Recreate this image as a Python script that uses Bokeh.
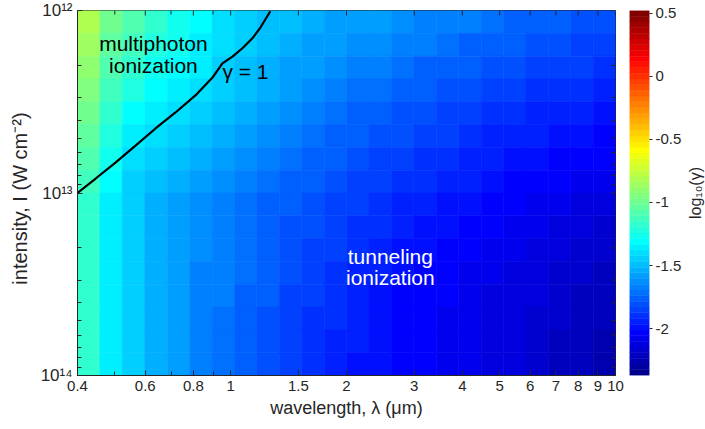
import numpy as np
from bokeh.plotting import figure
from bokeh.models import (FixedTicker, Range1d, Label, ColumnDataSource)
from bokeh.layouts import row
from bokeh.transform import linear_cmap
from bokeh.embed import file_html
from bokeh.resources import INLINE

# ---------------- data ----------------
# cell centres of the colour map
wavelength_um = [0.428, 0.489, 0.559, 0.640, 0.732, 0.837, 0.957, 1.094, 1.251, 1.431, 1.637, 1.872,
                 2.140, 2.448, 2.799, 3.201, 3.661, 4.186, 4.787, 5.475, 6.261, 7.160, 8.188, 9.351]
intensity_wcm2 = [1.155e12, 1.540e12, 2.054e12, 2.738e12, 3.652e12, 4.870e12, 6.494e12, 8.660e12,
                  1.155e13, 1.540e13, 2.054e13, 2.738e13, 3.652e13, 4.870e13, 6.494e13, 8.660e13]

# log10(gamma), one list per intensity row (top = 1e12)
lg_r00 = [-0.83, -0.99, -1.10, -1.18, -1.25, -1.32, -1.39, -1.44, -1.47, -1.50, -1.53, -1.56, -1.58, -1.60, -1.62, -1.65, -1.67, -1.69, -1.72, -1.74, -1.77, -1.78, -1.80, -1.82]
lg_r01 = [-0.86, -1.04, -1.15, -1.22, -1.28, -1.35, -1.41, -1.46, -1.49, -1.53, -1.56, -1.59, -1.62, -1.64, -1.67, -1.69, -1.72, -1.74, -1.76, -1.78, -1.80, -1.82, -1.84, -1.85]
lg_r02 = [-0.89, -1.08, -1.19, -1.26, -1.32, -1.37, -1.43, -1.48, -1.52, -1.56, -1.59, -1.63, -1.66, -1.69, -1.71, -1.74, -1.76, -1.78, -1.80, -1.82, -1.84, -1.86, -1.87, -1.89]
lg_r03 = [-0.93, -1.13, -1.24, -1.30, -1.35, -1.40, -1.45, -1.50, -1.54, -1.58, -1.63, -1.67, -1.71, -1.73, -1.76, -1.78, -1.81, -1.82, -1.84, -1.86, -1.88, -1.90, -1.91, -1.93]
lg_r04 = [-0.98, -1.18, -1.29, -1.35, -1.39, -1.44, -1.49, -1.53, -1.58, -1.62, -1.66, -1.71, -1.74, -1.77, -1.79, -1.82, -1.84, -1.86, -1.88, -1.90, -1.92, -1.93, -1.95, -1.97]
lg_r05 = [-1.03, -1.23, -1.34, -1.39, -1.44, -1.49, -1.54, -1.58, -1.62, -1.66, -1.70, -1.74, -1.77, -1.80, -1.82, -1.85, -1.87, -1.90, -1.92, -1.93, -1.95, -1.97, -1.99, -2.01]
lg_r06 = [-1.09, -1.28, -1.38, -1.44, -1.49, -1.54, -1.59, -1.63, -1.67, -1.70, -1.74, -1.77, -1.80, -1.83, -1.86, -1.88, -1.91, -1.93, -1.95, -1.97, -1.99, -2.01, -2.03, -2.05]
lg_r07 = [-1.15, -1.33, -1.43, -1.49, -1.55, -1.59, -1.64, -1.67, -1.71, -1.74, -1.78, -1.81, -1.84, -1.86, -1.89, -1.91, -1.94, -1.96, -1.99, -2.01, -2.03, -2.05, -2.07, -2.09]
lg_r08 = [-1.18, -1.36, -1.45, -1.52, -1.57, -1.62, -1.66, -1.70, -1.74, -1.77, -1.80, -1.83, -1.86, -1.89, -1.92, -1.94, -1.97, -1.99, -2.01, -2.04, -2.06, -2.08, -2.10, -2.12]
lg_r09 = [-1.19, -1.36, -1.46, -1.52, -1.58, -1.63, -1.67, -1.71, -1.75, -1.79, -1.82, -1.85, -1.88, -1.91, -1.94, -1.97, -1.99, -2.01, -2.04, -2.06, -2.08, -2.10, -2.13, -2.15]
lg_r10 = [-1.19, -1.36, -1.46, -1.53, -1.59, -1.64, -1.68, -1.72, -1.76, -1.80, -1.84, -1.87, -1.91, -1.94, -1.97, -1.99, -2.01, -2.04, -2.06, -2.08, -2.11, -2.13, -2.15, -2.17]
lg_r11 = [-1.19, -1.37, -1.46, -1.53, -1.59, -1.65, -1.69, -1.73, -1.77, -1.82, -1.86, -1.89, -1.93, -1.96, -1.99, -2.02, -2.04, -2.06, -2.08, -2.11, -2.13, -2.15, -2.17, -2.20]
lg_r12 = [-1.19, -1.37, -1.46, -1.53, -1.59, -1.65, -1.69, -1.74, -1.78, -1.83, -1.87, -1.90, -1.94, -1.97, -2.01, -2.03, -2.05, -2.07, -2.10, -2.12, -2.14, -2.17, -2.19, -2.21]
lg_r13 = [-1.19, -1.36, -1.46, -1.53, -1.59, -1.65, -1.70, -1.74, -1.79, -1.83, -1.88, -1.91, -1.95, -1.98, -2.01, -2.04, -2.06, -2.08, -2.10, -2.13, -2.15, -2.18, -2.20, -2.23]
lg_r14 = [-1.18, -1.36, -1.46, -1.53, -1.59, -1.65, -1.70, -1.74, -1.79, -1.84, -1.88, -1.92, -1.96, -1.99, -2.02, -2.04, -2.06, -2.09, -2.11, -2.14, -2.16, -2.19, -2.22, -2.24]
lg_r15 = [-1.18, -1.36, -1.46, -1.52, -1.59, -1.66, -1.70, -1.75, -1.80, -1.85, -1.89, -1.93, -1.97, -2.00, -2.02, -2.05, -2.07, -2.09, -2.12, -2.14, -2.17, -2.20, -2.23, -2.26]

# gamma = 1 contour
gamma1_wavelength_um = [0.400, 0.446, 0.502, 0.566, 0.638, 0.719, 0.810, 0.897, 0.952, 1.011, 1.073, 1.139, 1.195, 1.268]
gamma1_intensity = [1.00e13, 8.33e12, 6.81e12, 5.50e12, 4.43e12, 3.62e12, 2.92e12, 2.33e12, 1.95e12, 1.79e12, 1.61e12, 1.42e12, 1.24e12, 1.01e12]

# axes / colour scale
x_lim = [0.4, 10]
y_lim = [1e12, 1e14]
x_major_ticks = [0.4, 0.6, 0.8, 1, 1.5, 2, 3, 4, 5, 6, 7, 8, 9, 10]
x_minor_ticks = [0.5, 0.7, 0.9]
y_major_ticks = [10**12, 10**13, 10**14]
y_major_labels = ["10\u00b9\u00b2", "10\u00b9\u00b3", "10\u00b9\u2074"]
y_minor_ticks = [k * 10**e for e in (12, 13) for k in range(2, 10)]
cbar_low, cbar_high = -2.37, 0.52
cbar_ticks = [-2, -1.5, -1, -0.5, 0, 0.5]
cbar_labels = ["-2", "-1.5", "-1", "-0.5", "0", "0.5"]

# ---------------- jet colormap (MATLAB, 64 colours) ----------------
def jet(m=64):
    n = int(np.ceil(m / 4))
    u = np.concatenate([np.arange(1, n + 1) / n, np.ones(n - 1), np.arange(n, 0, -1) / n])
    g = int(np.ceil(n / 2)) - (1 if m % 4 == 1 else 0) + np.arange(1, len(u) + 1)
    r = g + n
    b = g - n
    J = np.zeros((m, 3))
    k = g <= m; J[g[k] - 1, 1] = u[k]
    k = r <= m; J[r[k] - 1, 0] = u[k]
    k = b >= 1; J[b[k] - 1, 2] = u[k]
    return ["#%02x%02x%02x" % tuple(int(round(c * 255)) for c in rgb) for rgb in J]

palette = jet(64)

# ---------------- cell geometry ----------------
def edges(centres, lo, hi):
    c = np.asarray(centres, dtype=float)
    mids = np.sqrt(c[:-1] * c[1:])
    return np.concatenate([[lo], mids, [hi]])

lam_e = edges(wavelength_um, x_lim[0], x_lim[1])
int_e = edges(intensity_wcm2, y_lim[0], y_lim[1])
rows = [lg_r00, lg_r01, lg_r02, lg_r03, lg_r04, lg_r05, lg_r06, lg_r07,
        lg_r08, lg_r09, lg_r10, lg_r11, lg_r12, lg_r13, lg_r14, lg_r15]

L, R, T, B, V = [], [], [], [], []
for i, rv in enumerate(rows):
    for j, v in enumerate(rv):
        L.append(lam_e[j]); R.append(lam_e[j + 1])
        T.append(int_e[i]); B.append(int_e[i + 1])
        V.append(v)
src = ColumnDataSource(dict(left=L, right=R, top=T, bottom=B, v=V))

FONT = "Liberation Sans"
AX = "#262626"
FW, FH = 538, 365

# ---------------- main plot ----------------
p = figure(frame_width=FW, frame_height=FH, x_axis_type="log", y_axis_type="log",
           x_range=Range1d(x_lim[0], x_lim[1]), y_range=Range1d(y_lim[1], y_lim[0]),
           min_border_left=77, min_border_right=14, min_border_top=10, min_border_bottom=54,
           toolbar_location=None, output_backend="svg")
p.xgrid.visible = False
p.ygrid.visible = False
p.outline_line_color = AX
p.outline_line_width = 1

cmap = linear_cmap("v", palette, cbar_low, cbar_high)
p.quad(left="left", right="right", top="top", bottom="bottom", source=src,
       fill_color=cmap, line_color=cmap, line_width=0.6)

p.line(gamma1_wavelength_um, gamma1_intensity, line_color="black", line_width=2.2)

# tick marks mirrored on the top and right edges (inward, like the bottom/left axes)
x_dec_px = FW / np.log10(x_lim[1] / x_lim[0])
y_dec_px = FH / np.log10(y_lim[1] / y_lim[0])
def tick_len_x(px):
    return 10 ** (px / x_dec_px)
def tick_len_y(px):
    return 10 ** (px / y_dec_px)
for ticks, ln in [(x_major_ticks, 5), (x_minor_ticks, 4)]:
    p.segment(x0=ticks, x1=ticks, y0=[y_lim[0]] * len(ticks),
              y1=[y_lim[0] * tick_len_y(ln)] * len(ticks), line_color=AX, line_width=1)
for ticks, ln in [(y_major_ticks, 5), (y_minor_ticks, 4)]:
    p.segment(x0=[x_lim[1]] * len(ticks), x1=[x_lim[1] / tick_len_x(ln)] * len(ticks),
              y0=ticks, y1=ticks, line_color=AX, line_width=1)

xt = FixedTicker(ticks=x_major_ticks, minor_ticks=x_minor_ticks)
yt = FixedTicker(ticks=y_major_ticks, minor_ticks=y_minor_ticks)

def style(ax, ticker):
    ax.ticker = ticker
    ax.axis_line_color = AX
    ax.major_tick_line_color = AX
    ax.minor_tick_line_color = AX
    ax.major_tick_in = 5
    ax.major_tick_out = 0
    ax.minor_tick_in = 4
    ax.minor_tick_out = 0
    ax.major_label_text_font = FONT
    ax.major_label_text_font_size = "15px"
    ax.major_label_text_color = AX
    ax.axis_label_text_font = FONT
    ax.axis_label_text_font_style = "normal"
    ax.axis_label_text_color = AX

style(p.xaxis[0], xt)
p.xaxis[0].major_label_overrides = {t: str(t) for t in x_major_ticks}
p.xaxis[0].major_label_standoff = 5
p.xaxis[0].axis_label = "wavelength, \u03bb (\u03bcm)"
p.xaxis[0].axis_label_text_font_size = "18px"
p.xaxis[0].axis_label_standoff = 4

style(p.yaxis[0], yt)
p.yaxis[0].major_label_overrides = dict(zip(y_major_ticks, y_major_labels))
p.yaxis[0].major_label_text_font_size = "17px"
p.yaxis[0].major_label_standoff = 5
p.yaxis[0].axis_label = "intensity,  I  (W cm\u207b\u00b2)"
p.yaxis[0].axis_label_text_font_size = "20px"
p.yaxis[0].axis_label_standoff = 7

for txt, x, y, col in [("multiphoton", 0.630, 1.516e12, "black"),
                       ("ionization", 0.630, 2.0e12, "black"),
                       ("tunneling", 2.60, 2.23e13, "white"),
                       ("ionization", 2.60, 2.90e13, "white")]:
    p.add_layout(Label(x=x, y=y, text=txt, text_align="center", text_baseline="alphabetic",
                       text_font=FONT, text_font_size="21px", text_color=col))
p.add_layout(Label(x=0.952, y=2.16e12, text="\u03b3 = 1", text_align="left",
                   text_baseline="alphabetic", text_font=FONT, text_font_size="21px",
                   text_color="black"))

# ---------------- colour bar ----------------
cb = figure(frame_width=20, frame_height=FH, x_range=Range1d(0, 1),
            y_range=Range1d(cbar_low, cbar_high), x_axis_location=None, y_axis_location="right",
            min_border_left=0, min_border_right=36, min_border_top=10, min_border_bottom=54,
            toolbar_location=None, output_backend="svg")
cb.xgrid.visible = False
cb.ygrid.visible = False
cb.outline_line_color = None
step = (cbar_high - cbar_low) / len(palette)
cb.quad(left=0, right=1, bottom=[cbar_low + k * step for k in range(len(palette))],
        top=[cbar_low + (k + 1) * step for k in range(len(palette))],
        fill_color=palette, line_color=palette, line_width=0.5)
cax = cb.yaxis[0]
cax.ticker = FixedTicker(ticks=cbar_ticks)
cax.major_label_overrides = dict(zip(cbar_ticks, cbar_labels))
cax.axis_line_color = None
cax.major_tick_line_color = AX
cax.major_tick_in = 0
cax.major_tick_out = 3
cax.minor_tick_line_color = None
cax.major_label_text_font = FONT
cax.major_label_text_font_size = "15px"
cax.major_label_text_color = AX
cax.major_label_standoff = 3

# colour bar title (its own narrow panel so that it reads bottom-to-top)
tf = figure(frame_width=20, frame_height=FH, x_range=Range1d(0, 1), y_range=Range1d(0, 1),
            x_axis_location=None, y_axis_location=None,
            min_border_left=0, min_border_right=0, min_border_top=10, min_border_bottom=54,
            toolbar_location=None, output_backend="svg")
tf.xgrid.visible = False
tf.ygrid.visible = False
tf.outline_line_color = None
tf.add_layout(Label(x=0.5, y=0.5, text="log\u2081\u2080(\u03b3)", angle=np.pi / 2,
                    text_align="center", text_baseline="middle", text_font=FONT,
                    text_font_size="16px", text_color=AX))

layout = row(p, cb, tf)
open("out.html", "w").write(file_html(layout, INLINE))
